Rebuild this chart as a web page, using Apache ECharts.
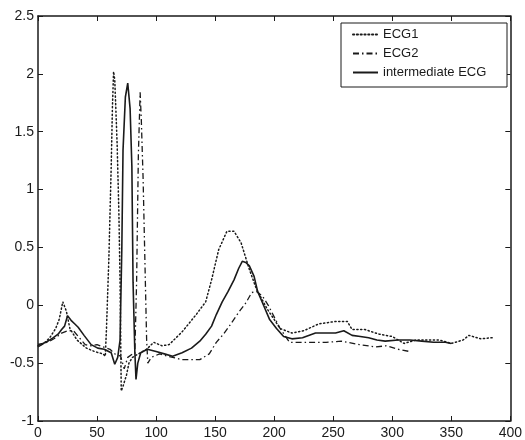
<!DOCTYPE html>
<html>
<head>
    <meta charset="utf-8">
    <title>ECG</title>
    <script src="https://cdn.jsdelivr.net/npm/echarts@6/dist/echarts.min.js"></script>
</head>
<body style="margin:0;background:#fff">
    <div id="chart" style="width: 525px; height: 440px;"></div>
    <script type="text/javascript">
        // data
        var ecg1X = [0,5,10,15,18,21,24,27,33,41,48,55,57,58,60,62,63,64,65,67,68.5,69.5,70.5,72,75,77,80,85,92,98,105,111,122,134,142,147,153,160,166,172,179,185,194,205,215,225,238,252,262,266,277,289,300,310,320,330,340,350,360,365,375,385];
        var ecg1Y = [-0.35,-0.33,-0.28,-0.2,-0.12,0.03,-0.05,-0.2,-0.3,-0.37,-0.4,-0.42,-0.44,-0.2,0.4,1.2,1.7,2.02,1.95,1.4,0.8,0.2,-0.74,-0.7,-0.6,-0.5,-0.45,-0.42,-0.38,-0.32,-0.35,-0.34,-0.23,-0.08,0.03,0.22,0.48,0.64,0.64,0.54,0.31,0.14,-0.03,-0.2,-0.24,-0.22,-0.16,-0.14,-0.14,-0.21,-0.21,-0.25,-0.27,-0.33,-0.3,-0.3,-0.3,-0.33,-0.3,-0.26,-0.29,-0.28];

        var ecg2X = [0,5,10,15,20,25,30,35,40,45,50,55,61,65,70,73,76,80,82,83.5,85,86.5,87.5,89,90.5,92,93,96,103,110,122,137,145,151,157,162,170,176,181,185,190,195,200,205,213,229,244,257,272,286,295,305,315];
        var ecg2Y = [-0.36,-0.33,-0.31,-0.28,-0.24,-0.22,-0.22,-0.28,-0.34,-0.35,-0.34,-0.36,-0.38,-0.42,-0.44,-0.55,-0.45,-0.42,-0.42,0.2,1.3,1.84,1.6,1.1,0.4,-0.3,-0.5,-0.45,-0.42,-0.44,-0.47,-0.47,-0.42,-0.32,-0.25,-0.18,-0.06,0.02,0.11,0.12,0.08,0.0,-0.1,-0.2,-0.32,-0.32,-0.32,-0.31,-0.34,-0.36,-0.35,-0.38,-0.4];

        var midX = [0,4,8.4,13,17,20,22.5,25,28,31,34,39,45,50.6,56,62,65,67.5,69.5,71,72,74,76,78,79.5,80.5,82,83,84.5,87,92.6,100,107,114,122,130,137,142,147,151,156,161,166,170,173,176,179,183,186,191,196,202,208,215,224,235,243,252,259,266,273,280,287,294,305,315,325,335,345,350];
        var midY = [-0.34,-0.33,-0.31,-0.28,-0.25,-0.21,-0.18,-0.09,-0.13,-0.16,-0.19,-0.26,-0.34,-0.37,-0.38,-0.41,-0.51,-0.45,-0.3,0.5,1.34,1.8,1.92,1.7,1.2,0.2,-0.4,-0.64,-0.5,-0.41,-0.38,-0.4,-0.42,-0.44,-0.41,-0.37,-0.31,-0.25,-0.18,-0.08,0.03,0.12,0.22,0.32,0.38,0.37,0.34,0.25,0.12,0.0,-0.12,-0.2,-0.27,-0.29,-0.28,-0.24,-0.24,-0.24,-0.22,-0.26,-0.27,-0.28,-0.3,-0.31,-0.3,-0.3,-0.31,-0.32,-0.32,-0.33];

        var seriesNames = ['ECG1', 'ECG2', 'intermediate ECG'];

        function pairs(xs, ys) {
            return xs.map(function (x, i) { return [x, ys[i]]; });
        }

        var chart = echarts.init(document.getElementById('chart'));
        var ink = '#1a1a1a';
        var font = '"Liberation Sans", Arial, sans-serif';

        var frameAxis = { show: true, onZero: false, lineStyle: { color: ink, width: 1.5 } };
        var inTick = { inside: true, length: 5, lineStyle: { color: ink, width: 1 } };

        var option = {
            animation: false,
            backgroundColor: '#fff',
            grid: { left: 38, right: 13, top: 16, bottom: 18 },
            legend: {
                data: seriesNames,
                orient: 'vertical',
                left: 347,
                top: 23,
                itemWidth: 25,
                itemHeight: 10,
                itemGap: 6,
                z: 100,
                itemStyle: { opacity: 0 },
                textStyle: { fontFamily: font, fontSize: 13, color: ink }
            },
            graphic: [{
                type: 'rect',
                shape: { x: 341, y: 23, width: 166, height: 64 },
                style: { fill: '#fff', stroke: ink, lineWidth: 1 },
                z: 90
            }],
            xAxis: [{
                type: 'value', min: 0, max: 400, interval: 50,
                axisLine: frameAxis, axisTick: inTick, splitLine: { show: false },
                axisLabel: { fontFamily: font, fontSize: 14, color: ink, margin: 5 }
            }, {
                type: 'value', position: 'top', min: 0, max: 400, interval: 50,
                axisLine: frameAxis, axisTick: inTick, splitLine: { show: false },
                axisLabel: { show: false }
            }],
            yAxis: [{
                type: 'value', min: -1, max: 2.5, interval: 0.5,
                axisLine: frameAxis, axisTick: inTick, splitLine: { show: false },
                axisLabel: { fontFamily: font, fontSize: 14, color: ink, margin: 4 }
            }, {
                type: 'value', position: 'right', min: -1, max: 2.5, interval: 0.5,
                axisLine: frameAxis, axisTick: inTick, splitLine: { show: false },
                axisLabel: { show: false }
            }],
            series: [{
                name: seriesNames[0], type: 'line', symbol: 'none',
                data: pairs(ecg1X, ecg1Y),
                lineStyle: { color: ink, width: 1.5, type: [1.2, 2.6], cap: 'round' },
                itemStyle: { color: ink }
            }, {
                name: seriesNames[1], type: 'line', symbol: 'none',
                data: pairs(ecg2X, ecg2Y),
                lineStyle: { color: ink, width: 1.3, type: [6, 3, 1.5, 3] },
                itemStyle: { color: ink }
            }, {
                name: seriesNames[2], type: 'line', symbol: 'none',
                data: pairs(midX, midY),
                lineStyle: { color: ink, width: 1.6 },
                itemStyle: { color: ink }
            }]
        };

        chart.setOption(option);
    </script>
</body>
</html>
